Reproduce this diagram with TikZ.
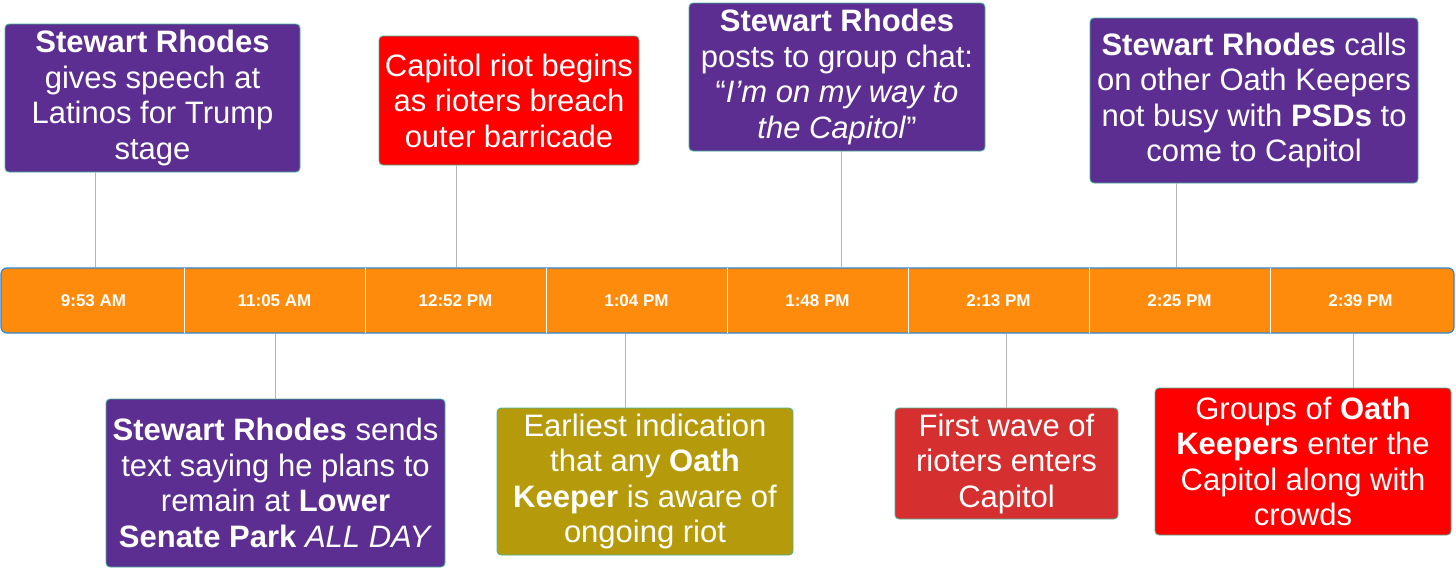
\documentclass[tikz,border=0pt]{standalone}
\usepackage{fontspec}
\setmainfont{Liberation Sans}
\usetikzlibrary{positioning}
\definecolor{rhodes}{HTML}{5C2E91}
\definecolor{riot}{HTML}{FF0000}
\definecolor{wave}{HTML}{D5302F}
\definecolor{aware}{HTML}{B59B0C}
\definecolor{barfill}{HTML}{FF8B0C}
\definecolor{barline}{HTML}{2E86D6}
\definecolor{evline}{HTML}{40B59A}
\definecolor{conngray}{HTML}{B4B4B4}

\begin{document}
\begin{tikzpicture}[x=1pt, y=-1pt,
  event/.style={draw=evline, line width=0.8pt, rounded corners=4pt, text=white,
    align=center, inner sep=0pt, font=\fontsize{31}{35.5}\selectfont},
  slot/.style={text=white, inner sep=0pt, minimum width=181pt, minimum height=64pt,
    font=\bfseries\fontsize{17}{20}\selectfont},
  conn/.style={draw=conngray, line width=1pt}]
  \useasboundingbox (0,0) rectangle (1456,573);

  % timeline bar
  \node[fill=barfill, draw=barline, line width=1.2pt, rounded corners=6pt,
    minimum width=1453pt, minimum height=65pt, inner sep=0pt] (bar) at (727.5,300.5) {};
  \foreach \i/\tm in {1/9:53 AM, 2/11:05 AM, 3/12:52 PM, 4/1:04 PM,
                      5/1:48 PM, 6/2:13 PM, 7/2:25 PM, 8/2:39 PM} {
    \node[slot] (t\i) at ({3+181*(\i-0.5)}, 300.5) {\tm};
  }
  \foreach \i in {1,...,7} {
    \draw[white, line width=1.2pt] (t\i.north east) -- (t\i.south east);
  }

  % events above
  \node[event, fill=rhodes, minimum width=295pt, minimum height=148pt] (e1) at (152.5,98)
    {\textbf{Stewart Rhodes}\\gives speech at\\Latinos for Trump\\stage};
  \node[event, fill=riot, minimum width=260pt, minimum height=129pt] (e2) at (509,100.5)
    {Capitol riot begins\\as rioters breach\\outer barricade};
  \node[event, fill=rhodes, minimum width=296pt, minimum height=148pt] (e3) at (837,77)
    {\textbf{Stewart Rhodes}\\posts to group chat:\\“\textit{I’m on my way to}\\\textit{the Capitol}”};
  \node[event, fill=rhodes, minimum width=328pt, minimum height=165pt] (e4) at (1254,100.5)
    {\textbf{Stewart Rhodes} calls\\on other Oath Keepers\\not busy with \textbf{PSDs} to\\come to Capitol};

  % events below
  \node[event, fill=rhodes, minimum width=339pt, minimum height=168pt] (e5) at (275.5,483)
    {\textbf{Stewart Rhodes} sends\\text saying he plans to\\remain at \textbf{Lower}\\\textbf{Senate Park} \textit{ALL DAY}};
  \node[event, fill=aware, minimum width=296pt, minimum height=147pt] (e6) at (645,481.5)
    {Earliest indication\\that any \textbf{Oath}\\\textbf{Keeper} is aware of\\ongoing riot};
  \node[event, fill=wave, minimum width=223pt, minimum height=111pt] (e7) at (1006.5,463.5)
    {First wave of\\rioters enters\\Capitol};
  \node[event, fill=riot, minimum width=296pt, minimum height=147pt] (e8) at (1303,461.5)
    {Groups of \textbf{Oath}\\\textbf{Keepers} enter the\\Capitol along with\\crowds};

  % connectors
  \foreach \e/\x in {e1/95, e2/456, e3/841, e4/1176} {
    \coordinate (k\e) at (\x,0);
    \draw[conn] (k\e |- \e.south) -- (k\e |- bar.north);
  }
  \foreach \e/\x in {e5/275, e6/625, e7/1006, e8/1353} {
    \coordinate (k\e) at (\x,0);
    \draw[conn] (k\e |- \e.north) -- (k\e |- bar.south);
  }
\end{tikzpicture}
\end{document}
